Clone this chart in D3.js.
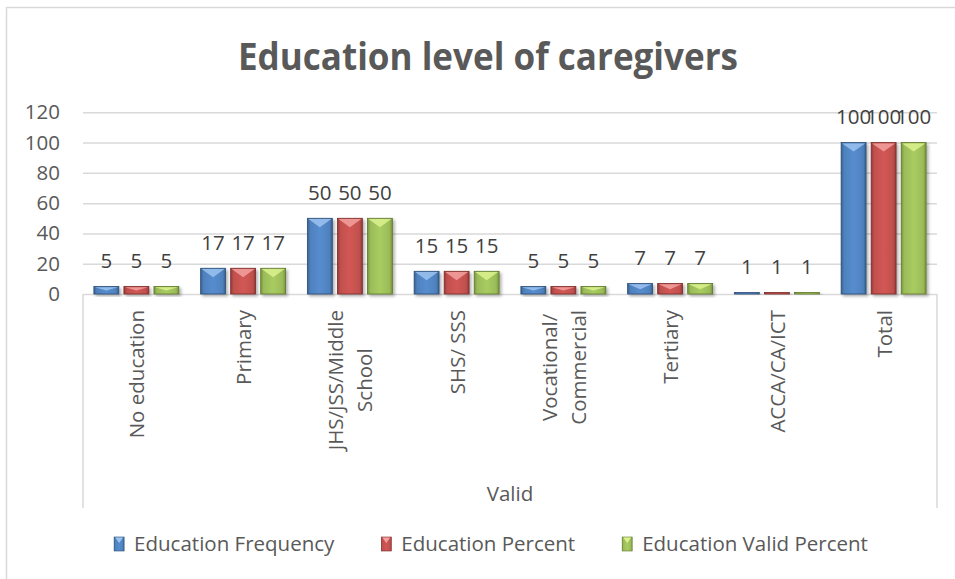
<!DOCTYPE html>
<html>
<head>
<meta charset="utf-8">
<script src="https://cdn.jsdelivr.net/npm/d3@7"></script>
<style>
  body { margin: 0; background: #fff; }
  svg { display: block; }
  text { font-family: "Open Sans", "DejaVu Sans", sans-serif; }
</style>
</head>
<body>
<svg id="chart"></svg>
<script>
// data
const categories = [
  ['No education'],
  ['Primary'],
  ['JHS/JSS/Middle', 'School'],
  ['SHS/ SSS'],
  ['Vocational/', 'Commercial'],
  ['Tertiary'],
  ['ACCA/CA/ICT'],
  ['Total']
];
const seriesNames = ['Education Frequency', 'Education Percent', 'Education Valid Percent'];
const frequency   = [5, 17, 50, 15, 5, 7, 1, 100];
const percent     = [5, 17, 50, 15, 5, 7, 1, 100];
const validPct    = [5, 17, 50, 15, 5, 7, 1, 100];
const yTicks = [0, 20, 40, 60, 80, 100, 120];
const groupLabel = 'Valid';

const width = 955;
const height = 579;
const plot = { left: 83, right: 937, top: 112.3, bottom: 294 };
const fontSize = 20.5;

const colors = [
  { base: '#4F81BD', dark: '#36608F', light: '#9CC3F0', line: '#2C4D75' },
  { base: '#C0504D', dark: '#94393A', light: '#F3A19F', line: '#7A2B29' },
  { base: '#9BBB59', dark: '#76933A', light: '#DCF28E', line: '#5E772B' }
];

const values = [frequency, percent, validPct];

let svg = d3.select('#chart')
  .attr('width', width)
  .attr('height', height);

// chart frame
svg.append('rect')
  .attr('x', 6.5).attr('y', 7.5)
  .attr('width', 960).attr('height', 600)
  .attr('fill', 'none')
  .attr('stroke', '#d9d9d9')
  .attr('stroke-width', 1.5);

let defs = svg.append('defs');
colors.forEach((c, i) => {
  let g = defs.append('linearGradient')
    .attr('id', 'grad' + i)
    .attr('x1', '0%').attr('x2', '100%')
    .attr('y1', '0%').attr('y2', '0%');
  g.append('stop').attr('offset', '0%').attr('stop-color', c.dark);
  g.append('stop').attr('offset', '12%').attr('stop-color', c.base);
  g.append('stop').attr('offset', '50%').attr('stop-color', d3.color(c.base).brighter(0.25));
  g.append('stop').attr('offset', '88%').attr('stop-color', c.base);
  g.append('stop').attr('offset', '100%').attr('stop-color', c.dark);
});
let shadow = defs.append('filter').attr('id', 'shadow')
  .attr('x', '-20%').attr('y', '-20%').attr('width', '150%').attr('height', '150%');
shadow.append('feDropShadow')
  .attr('dx', 2).attr('dy', 2).attr('stdDeviation', 1.5)
  .attr('flood-color', '#000').attr('flood-opacity', 0.3);

// title
svg.append('text')
  .attr('x', 488)
  .attr('y', 70)
  .attr('text-anchor', 'middle')
  .attr('font-size', 38)
  .attr('font-weight', 'bold')
  .attr('fill', '#595959')
  .attr('textLength', 500)
  .attr('lengthAdjust', 'spacingAndGlyphs')
  .text('Education level of caregivers');

// scales
let x0 = d3.scaleBand()
  .domain(d3.range(categories.length))
  .range([plot.left, plot.right])
  .paddingInner(0.204)
  .paddingOuter(0.102);

let x1 = d3.scaleBand()
  .domain(d3.range(seriesNames.length))
  .range([0, x0.bandwidth()])
  .paddingInner(0.17)
  .paddingOuter(0);

let y = d3.scaleLinear()
  .domain([0, 120])
  .range([plot.bottom, plot.top]);

// gridlines and y axis
let yAxis = d3.axisLeft(y)
  .tickValues(yTicks)
  .tickSize(-(plot.right - plot.left))
  .tickPadding(23);

let gy = svg.append('g')
  .attr('transform', 'translate(' + plot.left + ',0)')
  .call(yAxis);
gy.select('.domain').remove();
gy.selectAll('.tick line')
  .attr('stroke', '#d9d9d9')
  .attr('stroke-width', 1.5);
gy.selectAll('.tick text')
  .attr('font-size', fontSize)
  .attr('fill', '#595959')
  .attr('font-family', '"Open Sans", sans-serif');

// category box
svg.append('line')
  .attr('x1', plot.left).attr('x2', plot.left)
  .attr('y1', plot.bottom).attr('y2', 508)
  .attr('stroke', '#d9d9d9').attr('stroke-width', 1.5);
svg.append('line')
  .attr('x1', plot.right).attr('x2', plot.right)
  .attr('y1', plot.bottom).attr('y2', 508)
  .attr('stroke', '#d9d9d9').attr('stroke-width', 1.5);

// bars
let barData = [];
categories.forEach((cat, i) => {
  values.forEach((vals, s) => {
    barData.push({ cat: i, s: s, v: vals[i] });
  });
});

let bars = svg.append('g').selectAll('g.bar')
  .data(barData)
  .enter()
  .append('g')
  .attr('class', 'bar');

bars.append('rect')
  .attr('x', d => x0(d.cat) + x1(d.s))
  .attr('y', d => y(d.v))
  .attr('width', x1.bandwidth())
  .attr('height', d => y(0) - y(d.v))
  .attr('fill', d => 'url(#grad' + d.s + ')')
  .attr('stroke', d => colors[d.s].line)
  .attr('stroke-width', 0.8)
  .attr('filter', 'url(#shadow)');

// bevel on top of each bar
bars.append('path')
  .attr('d', d => {
    let bx = x0(d.cat) + x1(d.s);
    let bw = x1.bandwidth();
    let top = y(d.v);
    let h = y(0) - top;
    let b = Math.min(9, h * 0.55);
    return 'M' + (bx + 1) + ',' + (top + 0.8) +
      'L' + (bx + bw - 1) + ',' + (top + 0.8) +
      'L' + (bx + bw / 2) + ',' + (top + b) + 'Z';
  })
  .attr('fill', d => colors[d.s].light)
  .attr('opacity', 0.85);

// value labels
bars.append('text')
  .attr('x', d => x0(d.cat) + x1(d.s) + x1.bandwidth() / 2)
  .attr('y', d => y(d.v) - 18.5)
  .attr('text-anchor', 'middle')
  .attr('font-size', fontSize)
  .attr('fill', '#404040')
  .text(d => d.v);

// category labels, rotated and top aligned
let catTop = 310;
let lineGap = 29;
categories.forEach((lines, i) => {
  let cx = x0(i) + x0.bandwidth() / 2;
  let g = svg.append('g');
  let texts = lines.map((ln, j) => {
    return g.append('text')
      .attr('text-anchor', 'middle')
      .attr('dominant-baseline', 'central')
      .attr('font-size', fontSize)
      .attr('fill', '#595959')
      .attr('y', (j - (lines.length - 1) / 2) * lineGap)
      .text(ln);
  });
  let maxLen = d3.max(texts, t => t.node().getComputedTextLength());
  g.attr('transform', 'translate(' + cx + ',' + (catTop + maxLen / 2) + ') rotate(-90)');
});

svg.append('text')
  .attr('x', (plot.left + plot.right) / 2)
  .attr('y', 501)
  .attr('text-anchor', 'middle')
  .attr('font-size', fontSize)
  .attr('fill', '#595959')
  .text(groupLabel);

// legend
let legend = svg.append('g');
let lx = 0;
seriesNames.forEach((name, s) => {
  let item = legend.append('g').attr('transform', 'translate(' + lx + ',0)');
  item.append('rect')
    .attr('x', 0).attr('y', -14)
    .attr('width', 10).attr('height', 14)
    .attr('fill', 'url(#grad' + s + ')')
    .attr('stroke', colors[s].line)
    .attr('stroke-width', 0.6);
  item.append('path')
    .attr('d', 'M1,-13.5L9,-13.5L5,-8Z')
    .attr('fill', colors[s].light);
  let t = item.append('text')
    .attr('x', 20)
    .attr('y', 0)
    .attr('font-size', 20.5)
    .attr('fill', '#595959')
    .text(name);
  lx += 20 + t.node().getComputedTextLength() + 47;
});
let legendW = lx - 47;
legend.attr('transform', 'translate(' + (491 - legendW / 2) + ',551)');
</script>
</body>
</html>
